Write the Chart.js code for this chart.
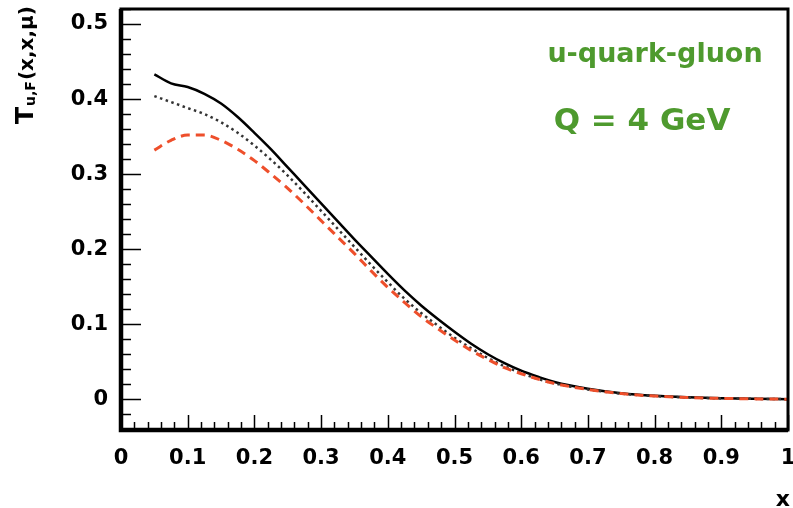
<!DOCTYPE html>
<html>
<head>
<meta charset="utf-8">
<script src="https://cdn.jsdelivr.net/npm/chart.js@4/dist/chart.umd.min.js"></script>
<style>
  body { margin: 0; background: #fff; }
  canvas { display: block; }
</style>
</head>
<body>
<canvas id="myChart" width="793" height="508"></canvas>
<script>
// x grid of the curves
var xs = [0.05, 0.075, 0.1, 0.125, 0.15, 0.175, 0.2, 0.225, 0.25, 0.275, 0.3, 0.325, 0.35, 0.375, 0.4,
          0.425, 0.45, 0.475, 0.5, 0.525, 0.55, 0.575, 0.6, 0.625, 0.65, 0.7, 0.75, 0.8, 0.85, 0.9, 0.95, 1.0];

// solid black
var solidVals = [0.433, 0.421, 0.416, 0.407, 0.394, 0.376, 0.355, 0.333, 0.309, 0.285, 0.261, 0.237, 0.213, 0.190, 0.167,
                 0.145, 0.125, 0.107, 0.090, 0.074, 0.060, 0.048, 0.038, 0.030, 0.023, 0.014, 0.008, 0.0045, 0.0025, 0.0012, 0.0005, 0.0001];
// dotted black
var dottedVals = [0.404, 0.396, 0.388, 0.380, 0.369, 0.355, 0.338, 0.319, 0.298, 0.275, 0.251, 0.227, 0.203, 0.179, 0.156,
                  0.134, 0.115, 0.098, 0.082, 0.068, 0.055, 0.044, 0.035, 0.027, 0.021, 0.013, 0.0075, 0.0042, 0.0023, 0.0011, 0.0005, 0.0001];
// dashed red
var dashedVals = [0.332, 0.345, 0.352, 0.352, 0.345, 0.333, 0.318, 0.300, 0.281, 0.260, 0.238, 0.216, 0.194, 0.171, 0.149,
                  0.129, 0.110, 0.094, 0.079, 0.065, 0.053, 0.042, 0.034, 0.027, 0.021, 0.013, 0.0075, 0.0042, 0.0023, 0.0011, 0.0005, 0.0001];

var xTicks = [0, 0.1, 0.2, 0.3, 0.4, 0.5, 0.6, 0.7, 0.8, 0.9, 1];
var yTicks = [0, 0.1, 0.2, 0.3, 0.4, 0.5];

function toPoints(vals) {
  var pts = [];
  for (var i = 0; i < xs.length; i++) {
    pts.push({x: xs[i], y: vals[i]});
  }
  return pts;
}

var FONT = "'DejaVu Sans', sans-serif";

// ROOT-like frame, inner ticks, titles and labels
var rootStyle = {
  id: 'rootStyle',
  afterDraw: function(chart) {
    var ctx = chart.ctx;
    var a = chart.chartArea;
    var xs_ = chart.scales.x;
    var ys_ = chart.scales.y;
    ctx.save();
    ctx.strokeStyle = '#000';

    // ticks
    ctx.lineWidth = 1.5;
    ctx.beginPath();
    for (var i = 0; i <= 50; i++) {
      var v = i * 0.02;
      var px = Math.round(xs_.getPixelForValue(v)) + 0.5;
      var len = (i % 5 === 0) ? 15 : 8;
      ctx.moveTo(px, a.bottom);
      ctx.lineTo(px, a.bottom - len);
    }
    for (var j = -2; j <= 26; j++) {
      var vy = j * 0.02;
      var py = Math.round(ys_.getPixelForValue(vy)) + 0.5;
      var leny = (j % 5 === 0) ? 20 : 10;
      ctx.moveTo(a.left, py);
      ctx.lineTo(a.left + leny, py);
    }
    ctx.stroke();

    // frame
    ctx.lineWidth = 3;
    ctx.strokeRect(a.left, a.top, a.right - a.left, a.bottom - a.top);
    ctx.lineWidth = 4.5;
    ctx.beginPath();
    ctx.moveTo(a.left, a.top);
    ctx.lineTo(a.left, a.bottom);
    ctx.lineTo(a.right, a.bottom);
    ctx.stroke();

    // x title
    ctx.fillStyle = '#000';
    ctx.font = "bold 22px " + FONT;
    ctx.textAlign = 'right';
    ctx.textBaseline = 'alphabetic';
    ctx.fillText('x', 790, 506);

    // y title, rotated
    ctx.save();
    ctx.translate(33, 124);
    ctx.rotate(-Math.PI / 2);
    ctx.textAlign = 'left';
    ctx.font = "bold 25px " + FONT;
    ctx.fillText('T', 0, 0);
    var w = ctx.measureText('T').width;
    ctx.font = "bold 14px " + FONT;
    ctx.fillText('u,F', w + 1, 2);
    w += ctx.measureText('u,F').width + 2;
    ctx.font = "bold 20px " + FONT;
    ctx.fillText('(x,x,\u03bc)', w, 0);
    ctx.restore();

    // annotations
    ctx.fillStyle = '#4e9a2e';
    ctx.textAlign = 'center';
    ctx.font = "bold 27px " + FONT;
    ctx.fillText('u-quark-gluon', 655, 62);
    ctx.font = "bold 31px " + FONT;
    ctx.fillText('Q = 4 GeV', 642, 130);
    ctx.restore();
  }
};

function noPad(s) {
  s.paddingLeft = 0;
  s.paddingRight = 0;
  s.paddingTop = 0;
  s.paddingBottom = 0;
}

var ctx = document.getElementById('myChart').getContext('2d');
var chart = new Chart(ctx, {
  type: 'line',
  data: {
    datasets: [{
      label: 'dashed',
      data: toPoints(dashedVals),
      borderColor: '#ee4f2b',
      borderWidth: 3,
      borderDash: [9, 6],
      order: 0
    }, {
      label: 'dotted',
      data: toPoints(dottedVals),
      borderColor: '#333',
      borderWidth: 2.5,
      borderDash: [2.5, 3.5],
      order: 1
    }, {
      label: 'solid',
      data: toPoints(solidVals),
      borderColor: '#000',
      borderWidth: 2.5,
      order: 2
    }]
  },
  options: {
    responsive: false,
    animation: false,
    layout: { padding: { top: 9, right: 5, left: 0, bottom: 0 } },
    elements: {
      point: { radius: 0 },
      line: { cubicInterpolationMode: 'monotone', fill: false }
    },
    plugins: {
      legend: { display: false },
      tooltip: { enabled: false }
    },
    scales: {
      x: {
        type: 'linear',
        min: 0,
        max: 1,
        border: { display: false },
        grid: { display: false, drawTicks: false },
        afterFit: function(s) { s.height = 78; noPad(s); },
        afterBuildTicks: function(s) { s.ticks = xTicks.map(function(v) { return {value: v}; }); },
        ticks: {
          padding: 16,
          maxRotation: 0,
          autoSkip: false,
          color: '#000',
          font: { family: FONT, size: 21, weight: 'bold' },
          callback: function(v) { return String(+v.toFixed(1)); }
        }
      },
      y: {
        type: 'linear',
        min: -0.041,
        max: 0.52,
        border: { display: false },
        grid: { display: false, drawTicks: false },
        afterFit: function(s) { s.width = 121; noPad(s); },
        afterBuildTicks: function(s) { s.ticks = yTicks.map(function(v) { return {value: v}; }); },
        ticks: {
          padding: 13,
          color: '#000',
          font: { family: FONT, size: 21, weight: 'bold' },
          callback: function(v) { return String(+v.toFixed(1)); }
        }
      }
    }
  },
  plugins: [rootStyle]
});
</script>
</body>
</html>
